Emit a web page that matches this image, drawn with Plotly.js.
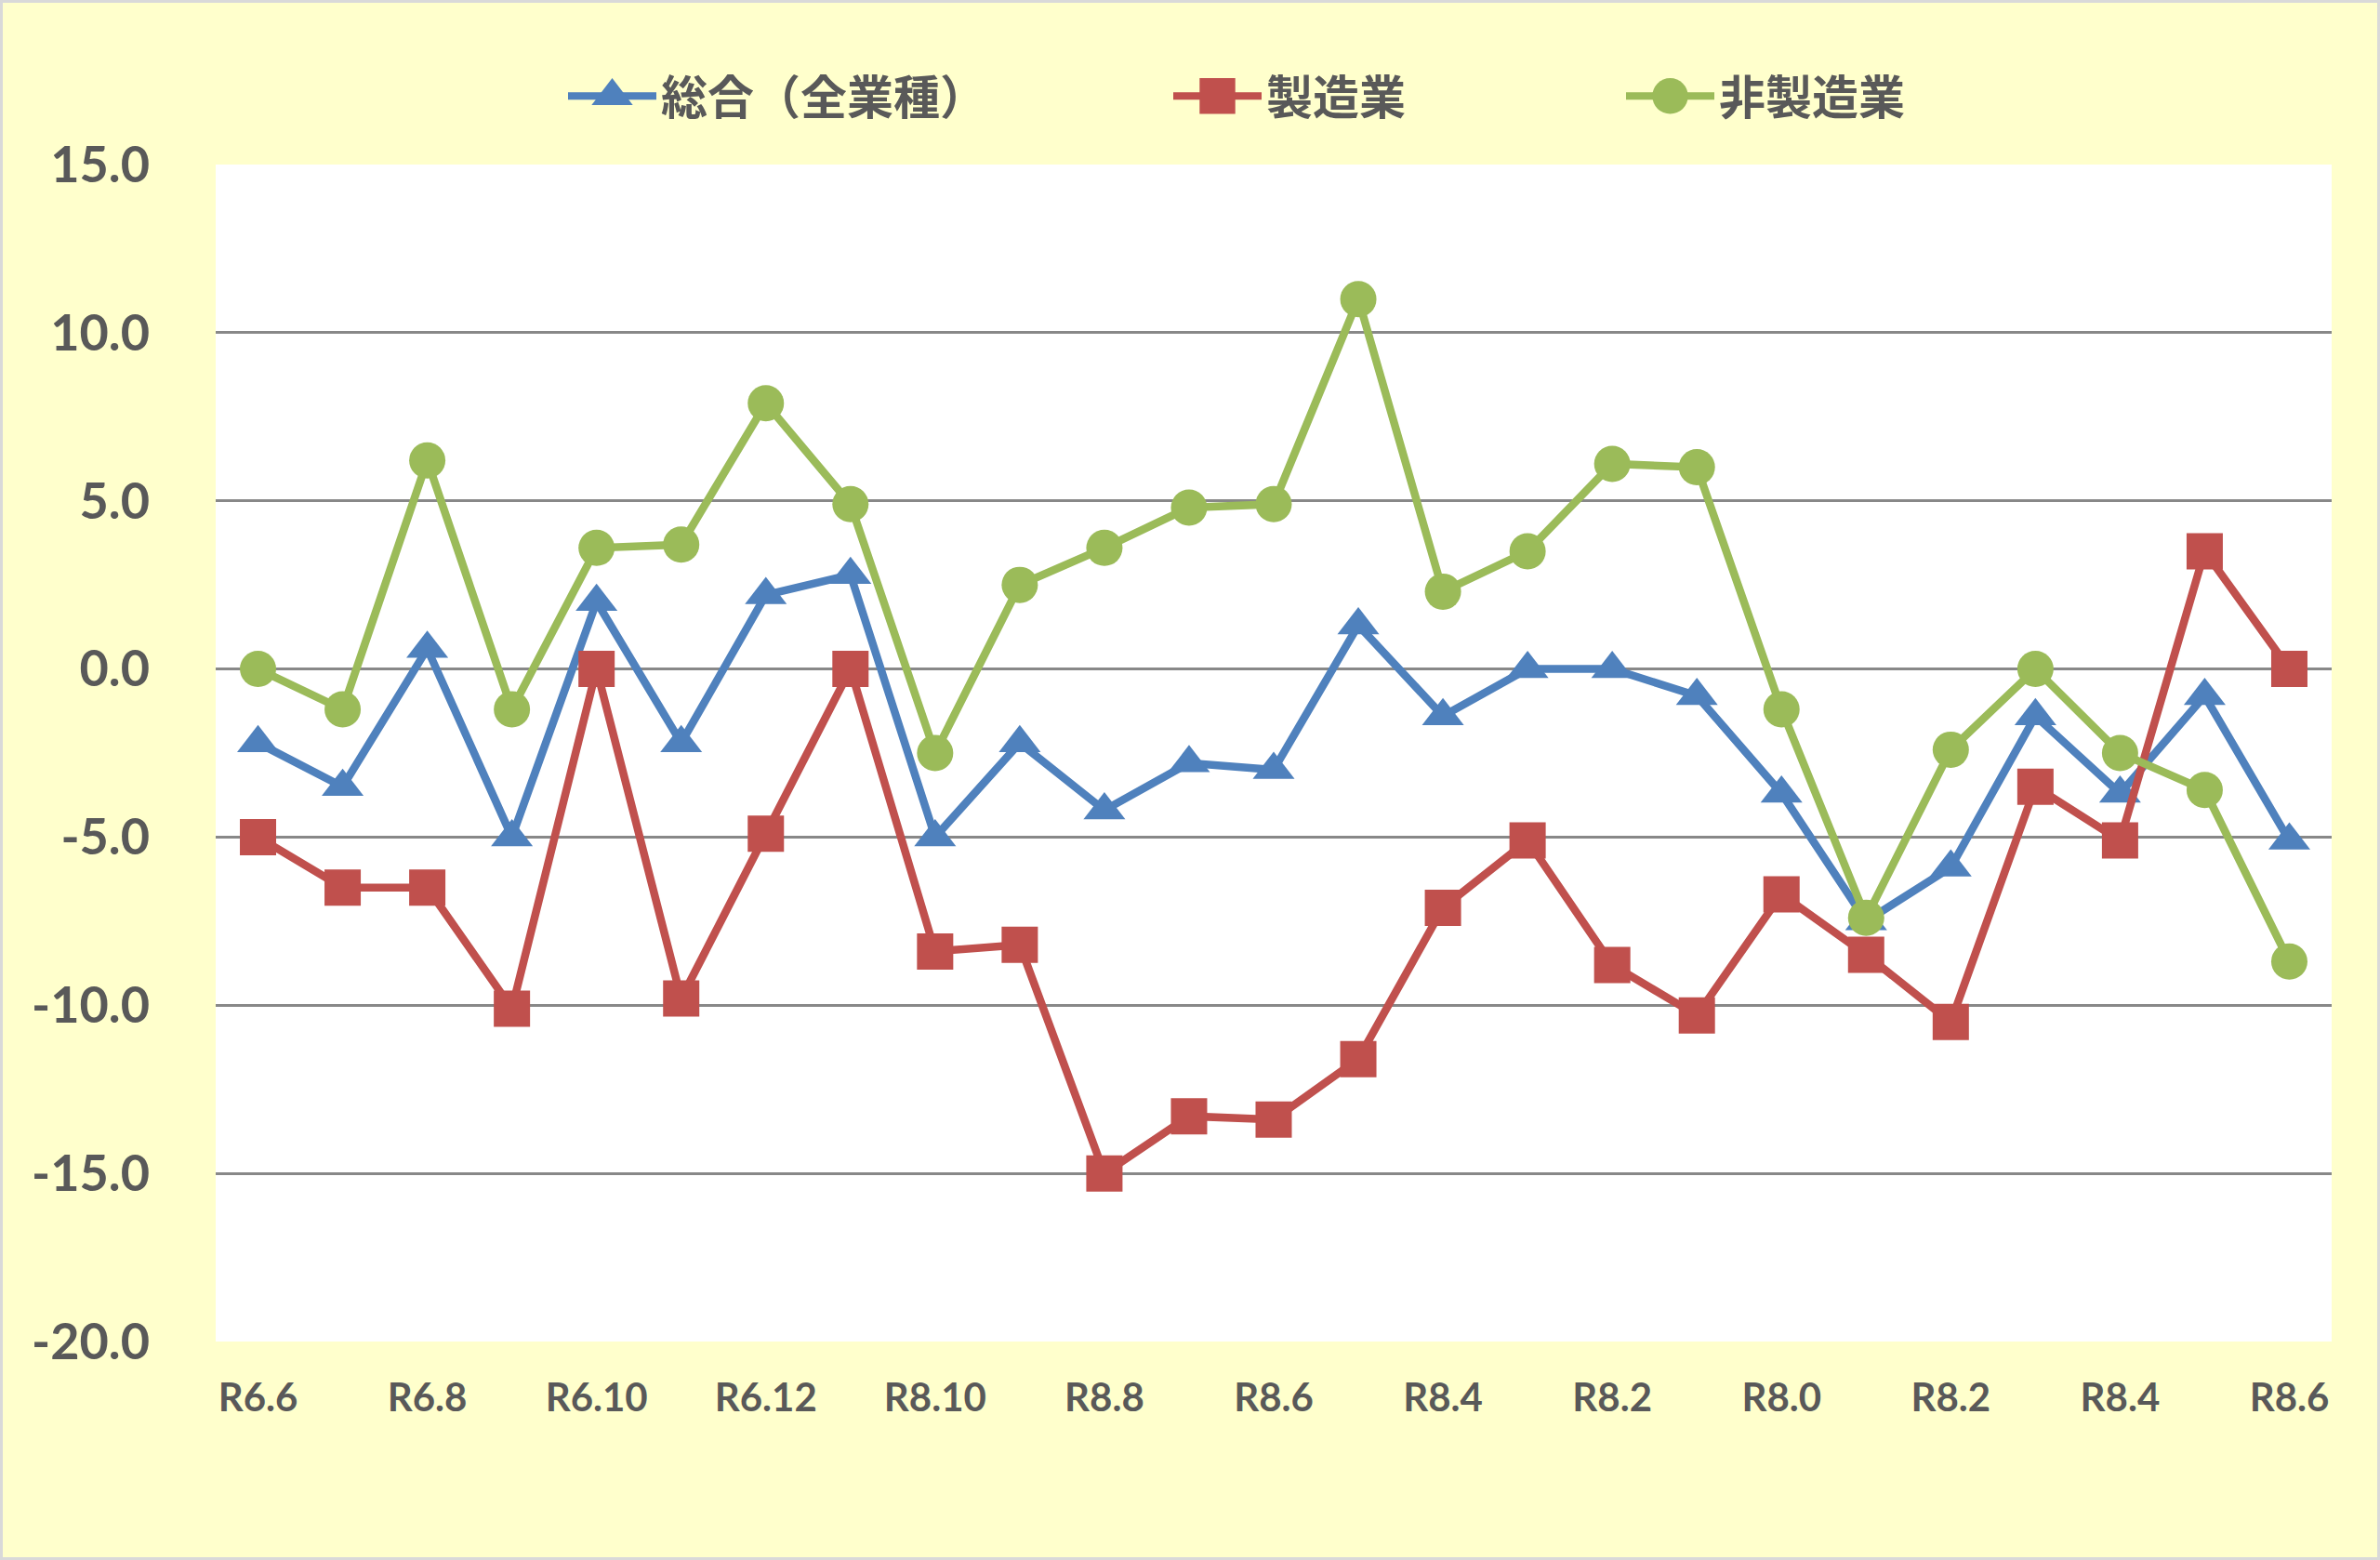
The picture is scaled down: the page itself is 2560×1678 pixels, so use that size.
<!DOCTYPE html>
<html>
<head>
<meta charset="utf-8">
<script src="https://cdn.plot.ly/plotly-3.0.1.min.js"></script>
<style>
  html, body { margin: 0; padding: 0; background: #ffffcc; }
  #myPlot { width: 2554px; height: 1672px; border: 3px solid #d9d9d9; }
</style>
</head>
<body>
<div id="myPlot"></div>
<script>
// x positions (one per survey) and the labels shown under every second one
const xIndex = [0, 1, 2, 3, 4, 5, 6, 7, 8, 9, 10, 11, 12, 13, 14, 15, 16, 17, 18, 19, 20, 21, 22, 23, 24];
const tickPos = [0, 2, 4, 6, 8, 10, 12, 14, 16, 18, 20, 22, 24];
const tickLabels = ['R6.6', 'R6.8', 'R6.10', 'R6.12', 'R8.10', 'R8.8', 'R8.6', 'R8.4', 'R8.2', 'R8.0', 'R8.2', 'R8.4', 'R8.6'];

// y ticks, written with a plain hyphen like the original
const yTickVals = [15, 10, 5, 0, -5, -10, -15, -20];
const yTickLabels = ['15.0', '10.0', '5.0', '0.0', '-5.0', '-10.0', '-15.0', '-20.0'];

// series values
const sogo = [-2.2, -3.5, 0.6, -5.0, 2.0, -2.2, 2.2, 2.8, -5.0, -2.2, -4.2, -2.8, -3.0,
              1.3, -1.4, 0.0, 0.0, -0.8, -3.7, -7.5, -5.9, -1.4, -3.7, -0.8, -5.1];
const seizo = [-5.0, -6.5, -6.5, -10.1, 0.0, -9.8, -4.9, 0.0, -8.4, -8.2, -15.0, -13.3, -13.4,
               -11.6, -7.1, -5.1, -8.8, -10.3, -6.7, -8.5, -10.5, -3.5, -5.1, 3.5, 0.0];
const hiseizo = [0.0, -1.2, 6.2, -1.2, 3.6, 3.7, 7.9, 4.9, -2.5, 2.5, 3.6, 4.8, 4.9,
                 11.0, 2.3, 3.5, 6.1, 6.0, -1.2, -7.4, -2.4, 0.0, -2.5, -3.6, -8.7];

const FONT = 'Lato, "Noto Sans CJK JP", sans-serif';
const TEXT = '#595959';
const W = 2554;

function series(name, values, color, symbol, legendId) {
    return {
        x: xIndex,
        y: values,
        name: name,
        legend: legendId,
        type: 'scatter',
        mode: 'lines+markers',
        line: { color: color, width: 8.5 },
        marker: { color: color, symbol: symbol, size: 39 }
    };
}

// one small legend per series so each entry can sit where the original has it
function legendAt(px) {
    return {
        orientation: 'h',
        xref: 'container',
        x: px / W,
        xanchor: 'left',
        yref: 'container',
        y: 0.94,
        yanchor: 'middle',
        font: { family: '"Noto Sans CJK JP", sans-serif', size: 50, color: TEXT, weight: 'bold' },
        itemwidth: 95,
        bgcolor: 'rgba(0,0,0,0)'
    };
}

let data = [
    series('総合（全業種）', sogo, '#4f81bd', 'triangle-up', 'legend'),
    series('製造業', seizo, '#c0504d', 'square', 'legend2'),
    series('非製造業', hiseizo, '#9bbb59', 'circle', 'legend3')
];

let layout = {
    width: W,
    height: 1672,
    paper_bgcolor: '#ffffcc',
    plot_bgcolor: '#ffffff',
    margin: { l: 229, r: 49, t: 174, b: 232 },
    font: { family: FONT, color: TEXT, size: 50, weight: 'bold' },
    showlegend: true,
    legend: legendAt(603),
    legend2: legendAt(1254),
    legend3: legendAt(1741),
    xaxis: {
        range: [-0.5, 24.5],
        tickmode: 'array',
        tickvals: tickPos,
        ticktext: tickLabels,
        showgrid: false,
        zeroline: false,
        showline: false,
        ticks: '',
        ticklabelstandoff: 32,
        tickfont: { family: FONT, size: 42, color: TEXT, weight: 'bold' }
    },
    yaxis: {
        range: [-20, 15],
        tickmode: 'array',
        tickvals: yTickVals,
        ticktext: yTickLabels,
        showgrid: true,
        gridcolor: '#888888',
        gridwidth: 2.5,
        zeroline: true,
        zerolinecolor: '#888888',
        zerolinewidth: 2.5,
        showline: false,
        ticks: '',
        ticklabelstandoff: 70,
        tickfont: { family: FONT, size: 54, color: TEXT, weight: 'bold' }
    }
};

// plotly caps legend symbol size, so blow them up to match the chart markers
function bigLegendSymbols() {
    document.querySelectorAll('.legendpoints path.scatterpts').forEach(function (p) {
        let t = p.getAttribute('transform') || '';
        if (t.indexOf('scale') < 0) p.setAttribute('transform', t + ' scale(2.4)');
    });
    document.querySelectorAll('.legendlines path').forEach(function (p) {
        p.style.strokeWidth = '8px';
    });
}

Plotly.newPlot('myPlot', data, layout, { displayModeBar: false }).then(function (gd) {
    bigLegendSymbols();
    gd.on('plotly_afterplot', bigLegendSymbols);
});
</script>
</body>
</html>
